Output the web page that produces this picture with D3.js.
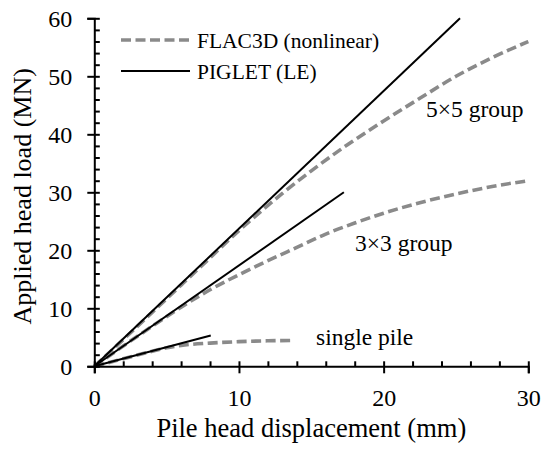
<!DOCTYPE html>
<html>
<head>
<meta charset="utf-8">
<script src="https://cdn.jsdelivr.net/npm/d3@7"></script>
<style>
  body { margin: 0; background: #fff; }
  svg text { font-family: "Liberation Serif", "Times New Roman", serif; fill: #000; }
</style>
</head>
<body>
<script>
// FLAC3D (nonlinear) curves
var flacSingleX = [0, 2, 4, 5, 6, 8, 10, 12, 13.7];
var flacSingleY = [0, 1.3, 2.6, 3.2, 3.6, 4.0, 4.25, 4.4, 4.45];
var flac3x3X = [0, 2, 4, 6, 8, 10, 12, 14, 16, 18, 20, 22.5, 25, 27.5, 30];
var flac3x3Y = [0, 3.5, 6.9, 10.2, 13.2, 15.8, 18.2, 20.5, 22.8, 24.7, 26.4, 28.2, 29.7, 31.0, 32.0];
var flac5x5X = [0, 2, 4, 6, 8, 10, 11, 13, 15, 17.5, 20, 22.5, 25, 27.5, 30];
var flac5x5Y = [0, 4.6, 9.3, 14.0, 18.7, 23.4, 25.6, 29.8, 33.7, 38.2, 42.3, 46.2, 50.0, 53.2, 56.0];

// PIGLET (LE) straight lines from origin: end points
var pigletEndX = [8.05, 17.25, 25.28];
var pigletEndY = [5.3, 30, 60];

var groupLabels = ["single pile", "3\u00d73 group", "5\u00d75 group"];
var xTicks = [0, 10, 20, 30];
var yTicks = [0, 10, 20, 30, 40, 50, 60];

var serif = "'Liberation Serif', 'Times New Roman', serif";
var w = 545, h = 450;
var svg = d3.select("body").append("svg")
    .attr("width", w)
    .attr("height", h)
    .attr("font-family", serif);

var x = d3.scaleLinear().domain([0, 30]).range([94.3, 528.3]);
var y = d3.scaleLinear().domain([0, 60]).range([366.3, 18.3]);

var line = d3.line()
    .x(function (d) { return x(d[0]); })
    .y(function (d) { return y(d[1]); })
    .curve(d3.curveMonotoneX);

function zip(a, b) {
    return a.map(function (v, i) { return [v, b[i]]; });
}

var flacSets = [zip(flacSingleX, flacSingleY), zip(flac3x3X, flac3x3Y), zip(flac5x5X, flac5x5Y)];

// dashed FLAC curves
svg.selectAll("path.flac")
    .data(flacSets)
    .enter()
    .append("path")
    .attr("class", "flac")
    .attr("d", line)
    .attr("fill", "none")
    .attr("stroke", "#8a8a8a")
    .attr("stroke-width", 3.6)
    .attr("stroke-dasharray", "10,4.5");

// solid PIGLET lines
svg.selectAll("path.piglet")
    .data(pigletEndX.map(function (v, i) { return [[0, 0], [v, pigletEndY[i]]]; }))
    .enter()
    .append("path")
    .attr("class", "piglet")
    .attr("d", d3.line().x(function (d) { return x(d[0]); }).y(function (d) { return y(d[1]); }))
    .attr("fill", "none")
    .attr("stroke", "#000")
    .attr("stroke-width", 2);

// axes: major ticks cross, minor ticks inside
var gx = svg.append("g").attr("transform", "translate(0," + y(0) + ")");
gx.call(d3.axisBottom(x).tickValues(xTicks).tickSize(7).tickPadding(16).tickFormat(d3.format("d")));
var gxIn = svg.append("g").attr("transform", "translate(0," + y(0) + ")");
gxIn.call(d3.axisTop(x).tickValues(d3.range(0, 31, 2)).tickSize(5).tickFormat(""));

var gy = svg.append("g").attr("transform", "translate(" + x(0) + ",0)");
gy.call(d3.axisLeft(y).tickValues(yTicks).tickSize(7).tickPadding(15).tickFormat(d3.format("d")));
var gyIn = svg.append("g").attr("transform", "translate(" + x(0) + ",0)");
gyIn.call(d3.axisRight(y).tickValues(d3.range(0, 61, 2)).tickSize(5.5).tickFormat(""));

svg.selectAll("g").attr("font-family", serif);
svg.selectAll(".domain").attr("stroke", "#000").attr("stroke-width", 2);
svg.selectAll(".tick line").attr("stroke", "#000").attr("stroke-width", 2);
gxIn.select(".domain").remove();
gyIn.select(".domain").remove();
svg.selectAll(".tick text")
    .style("font-family", serif)
    .style("font-size", "24px")
    .attr("fill", "#000");
gy.selectAll(".tick text").attr("dy", "0.34em");

// axis titles
svg.append("text")
    .attr("x", (x(0) + x(30)) / 2)
    .attr("y", 437)
    .attr("text-anchor", "middle")
    .style("font-size", "26.5px")
    .text("Pile head displacement (mm)");

svg.append("text")
    .attr("transform", "translate(31," + ((y(0) + y(60)) / 2 + 4) + ") rotate(-90)")
    .attr("text-anchor", "middle")
    .style("font-size", "26px")
    .text("Applied head load (MN)");

// legend
var legend = svg.append("g");
legend.append("line")
    .attr("x1", 121).attr("x2", 190).attr("y1", 40).attr("y2", 40)
    .attr("stroke", "#8a8a8a").attr("stroke-width", 3.6).attr("stroke-dasharray", "10,4.5");
legend.append("line")
    .attr("x1", 121).attr("x2", 190).attr("y1", 71).attr("y2", 71)
    .attr("stroke", "#000").attr("stroke-width", 2);
legend.append("text").attr("x", 197).attr("y", 47.5).style("font-size", "21.5px").text("FLAC3D (nonlinear)");
legend.append("text").attr("x", 197).attr("y", 78.5).style("font-size", "21.5px").text("PIGLET (LE)");

// group labels
var labelPos = [[316, 345], [355, 251], [426, 117]];
svg.selectAll("text.group")
    .data(groupLabels)
    .enter()
    .append("text")
    .attr("class", "group")
    .attr("x", function (d, i) { return labelPos[i][0]; })
    .attr("y", function (d, i) { return labelPos[i][1]; })
    .style("font-size", "23.5px")
    .text(function (d) { return d; });
</script>
</body>
</html>
